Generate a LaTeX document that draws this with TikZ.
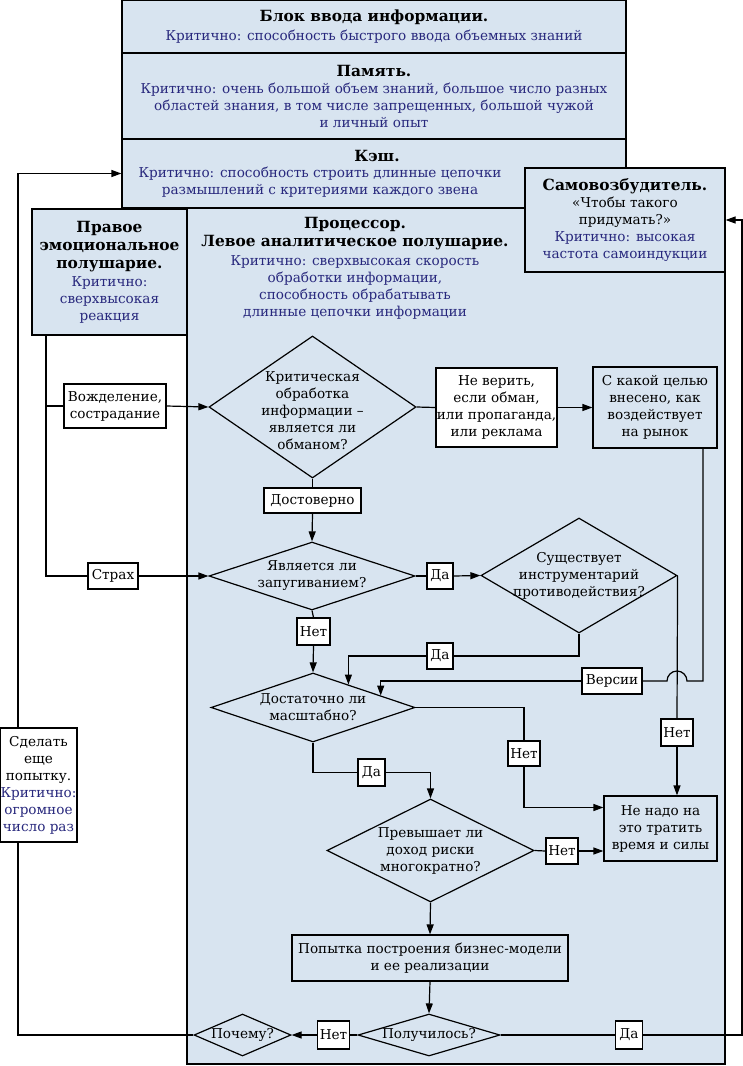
\documentclass[tikz,border=0pt]{standalone}
\usepackage{fontspec}
\setmainfont{DejaVu Serif}
\usepackage{xcolor}
\usetikzlibrary{shapes.geometric,arrows.meta}

\definecolor{critblue}{RGB}{40,40,125}
\definecolor{panel}{RGB}{216,228,240}

\newcommand{\ttl}[1]{{\fontsize{15.4}{19}\selectfont\bfseries #1}}
\newcommand{\crit}[1]{{\color{critblue}#1}}

\begin{document}
\begin{tikzpicture}[x=1pt, y=-1pt, font=\fontsize{13.6}{17}\selectfont, line width=1.2pt]

\tikzstyle{block} = [rectangle, draw, fill=panel, inner sep=0pt, align=center]
\tikzstyle{tag} = [rectangle, draw, fill=white, inner sep=0pt, align=center]
\tikzstyle{dia} = [diamond, draw, fill=panel, inner sep=0pt]
\tikzstyle{txt} = [inner sep=0pt, align=center]
\tikzstyle{arr} = [-{Triangle[length=10pt,width=7pt]}]

\useasboundingbox (0,0) rectangle (743,1066);

% top blocks
\node[block, minimum width=504pt, minimum height=53pt] (inp) at (374,26.5)
  {\ttl{Блок ввода информации.}\\[2pt] \crit{Критично: способность быстрого ввода объемных знаний}};
\node[block, minimum width=504pt, minimum height=86pt] (mem) at (374,96)
  {\ttl{Память.}\\ \crit{Критично: очень большой объем знаний, большое число разных}\\
   \crit{областей знания, в том числе запрещенных, большой чужой}\\ \crit{и личный опыт}};
\node[block, minimum width=504pt, minimum height=69pt] (cache) at (374,173.5) {};
\node[txt] (cache-h) at (377,156) {\ttl{Кэш.}};
\node[txt] (cache-t) at (320,182) {\crit{Критично: способность строить длинные цепочки}\\ \crit{размышлений с критериями каждого звена}};

% processor and hemispheres
\node[block, minimum width=538pt, minimum height=856pt] (proc) at (456,636) {};
\node[txt, anchor=north] (proc-t) at (355,217)
  {\ttl{Процессор.}\\[1pt] \ttl{Левое аналитическое полушарие.}\\[2pt] \crit{Критично: сверхвысокая скорость}\\
   \crit{обработки информации,}\\ \crit{способность обрабатывать}\\ \crit{длинные цепочки информации}};
\node[block, minimum width=155pt, minimum height=126pt] (emo) at (109.5,272)
  {\ttl{Правое}\\[1pt] \ttl{эмоциональное}\\[1pt] \ttl{полушарие.}\\[1pt] \crit{Критично:}\\ \crit{сверхвысокая}\\ \crit{реакция}};
\node[block, minimum width=200pt, minimum height=104pt] (self) at (625,220)
  {\ttl{Самовозбудитель.}\\ «Чтобы такого\\ придумать?»\\ \crit{Критично: высокая}\\ \crit{частота самоиндукции}};
\node[tag, minimum width=77pt, minimum height=114pt] (retry) at (38.5,785)
  {Сделать\\ еще\\ попытку.\\ \crit{Критично:}\\ \crit{огромное}\\ \crit{число раз}};

% inputs from the right hemisphere
\node[tag, minimum width=102pt, minimum height=44pt] (lust) at (115,406) {Вожделение,\\ сострадание};
\node[tag, minimum width=50pt, minimum height=26pt] (fear) at (113,576) {Страх};
\coordinate (e1) at (46,334);

% decisions
\node[dia, minimum width=207pt, minimum height=142pt] (crit) at (312.5,407) {};
\node[txt] (crit-t) at ([yshift=-4pt]crit) {Критическая\\ обработка\\ информации –\\ является ли\\ обманом?};
\node[dia, minimum width=206pt, minimum height=68pt] (scare) at (312,576) {};
\node[txt] (scare-t) at (scare) {Является ли\\ запугиванием?};
\node[dia, minimum width=196pt, minimum height=115pt] (exists) at (579,575.5) {};
\node[txt] (exists-t) at (exists) {Существует\\ инструментарий\\ противодействия?};
\node[dia, minimum width=204pt, minimum height=69pt] (enough) at (313,707.5) {};
\node[txt] (enough-t) at (enough) {Достаточно ли\\ масштабно?};
\node[dia, minimum width=207pt, minimum height=103pt] (exceed) at (430.5,850.5) {};
\node[txt] (exceed-t) at (exceed) {Превышает ли\\ доход риски\\ многократно?};
\node[dia, minimum width=142pt, minimum height=42pt] (done) at (429,1035) {};
\node[txt] (done-t) at (done) {Получилось?};
\node[dia, minimum width=97pt, minimum height=42pt] (why) at (242.5,1035) {};
\node[txt] (why-t) at (why) {Почему?};

% actions
\node[tag, minimum width=121pt, minimum height=79pt] (nobelief) at (496.5,407.5)
  {Не верить,\\ если обман,\\ или пропаганда,\\ или реклама};
\node[block, minimum width=124pt, minimum height=81pt] (aim) at (655,407.5)
  {С какой целью\\ внесено, как\\ воздействует\\ на рынок};
\node[block, minimum width=113pt, minimum height=65pt] (waste) at (660.5,828.5)
  {Не надо на\\ это тратить\\ время и силы};
\node[block, minimum width=276pt, minimum height=46pt] (try) at (430,958)
  {Попытка построения бизнес-модели\\ и ее реализации};

% labels on the connectors
\node[tag, minimum width=97pt, minimum height=25pt] (sure) at (312.5,500.5) {Достоверно};
\node[tag, minimum width=26pt, minimum height=26pt] (yes1) at (440,576) {Да};
\node[tag, minimum width=33pt, minimum height=27pt] (no1) at (313.5,631.5) {Нет};
\node[tag, minimum width=26pt, minimum height=26pt] (yes2) at (440,656) {Да};
\node[tag, minimum width=60pt, minimum height=26pt] (vers) at (612,681) {Версии};
\node[tag, minimum width=32pt, minimum height=25pt] (no2) at (524,753.5) {Нет};
\node[tag, minimum width=32pt, minimum height=27pt] (no3) at (677,732.5) {Нет};
\node[tag, minimum width=27pt, minimum height=27pt] (yes3) at (371.5,772.5) {Да};
\node[tag, minimum width=32pt, minimum height=26pt] (no4) at (562,851) {Нет};
\node[tag, minimum width=32pt, minimum height=28pt] (no5) at (333.5,1035) {Нет};
\node[tag, minimum width=27pt, minimum height=28pt] (yes5) at (629,1035) {Да};
\coordinate (rr) at (742,1035);

% connectors
\draw (e1) |- (fear.west);
\draw (lust.west) -- (lust.west -| e1);
\draw[arr] (lust.east) -- (crit.west);
\draw[arr] (fear.east) -- (scare.west);
\draw (crit.east) -- (nobelief.west);
\draw[arr] (nobelief.east) -- (aim.west);
\draw (crit.south) -- (sure.north);
\draw[arr] (sure.south) -- (scare.north);
\draw (scare.east) -- (yes1.west);
\draw[arr] (yes1.east) -- (exists.west);
\draw (scare.south) -- (no1.north);
\draw[arr] (no1.south) -- (enough.north);
\draw (exists.south) |- (yes2.east);
\draw[arr] (yes2.west) -| (enough.33);
\draw (exists.east) -- (no3.north);
\draw[arr] (no3.south) -- (no3.south |- waste.north);
\draw ([xshift=48pt]aim.south) |- (687,681) arc[start angle=0, end angle=180, radius=10pt] -- (vers.east);
\draw[arr] (vers.west) -| (enough.10);
\draw (enough.east) -| (no2.north);
\draw[arr] (no2.south) |- ([yshift=21pt]waste.west);
\draw (enough.south) |- (yes3.west);
\draw[arr] (yes3.east) -| (exceed.north);
\draw (exceed.east) -- (no4.west);
\draw[arr] (no4.east) -- (no4.east -| waste.west);
\draw[arr] (exceed.south) -- (try.north);
\draw[arr] (try.south) -- (done.north);
\draw (done.west) -- (no5.east);
\draw[arr] (no5.west) -- (why.east);
\draw (done.east) -- (yes5.west);
\draw[arr] (yes5.east) -- (rr) |- (self.east);
\draw (why.west) -| ([xshift=-20.5pt]retry.south);
\draw[arr] ([xshift=-20.5pt]retry.north) |- (cache.west);
\end{tikzpicture}
\end{document}
